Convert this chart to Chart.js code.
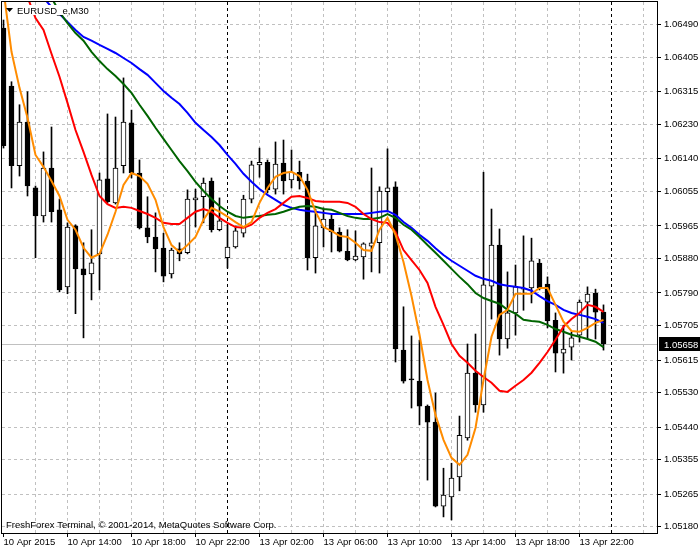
<!DOCTYPE html>
<html>
<head>
<meta charset="utf-8">
<script src="https://cdn.jsdelivr.net/npm/chart.js@4.4.1/dist/chart.umd.min.js"></script>
<style>
  html, body { margin: 0; padding: 0; background: #fff; }
  #wrap { width: 700px; height: 550px; }
</style>
</head>
<body>
<div id="wrap"><canvas id="myChart" width="700" height="550"></canvas></div>
<script>
// EURUSD_e M30, 10 Apr 10:00 .. 13 Apr 23:30, one entry per bar
const opens = [1.06481, 1.06330, 1.06122, 1.06236, 1.06064, 1.05991, 1.06116, 1.06007, 1.05806, 1.05965,
  1.05853, 1.05840, 1.05892, 1.06088, 1.06025, 1.06122, 1.06234, 1.06103, 1.05960, 1.05936,
  1.05907, 1.05840, 1.05905, 1.05895, 1.06033, 1.06041, 1.06082, 1.05955, 1.05882, 1.05910,
  1.05946, 1.06035, 1.06124, 1.06131, 1.06061, 1.06129, 1.06085, 1.06105, 1.06082, 1.05882,
  1.05960, 1.05983, 1.05949, 1.05899, 1.05876, 1.05884, 1.05912, 1.05921, 1.06054, 1.06067,
  1.05641, 1.05566, 1.05560, 1.05495, 1.05453, 1.05234, 1.05258, 1.05310, 1.05412, 1.05581,
  1.05498, 1.05808, 1.05915, 1.05670, 1.05738, 1.05800, 1.05803, 1.05868, 1.05813, 1.05719,
  1.05633, 1.05649, 1.05680, 1.05766, 1.05790, 1.05740];
const highs = [1.06502, 1.06341, 1.06281, 1.06315, 1.06069, 1.06158, 1.06223, 1.06035, 1.05973, 1.05968,
  1.05921, 1.05955, 1.06103, 1.06257, 1.06249, 1.06351, 1.06267, 1.06137, 1.06041, 1.05999,
  1.05946, 1.05907, 1.05921, 1.06059, 1.06061, 1.06090, 1.06090, 1.06038, 1.05968, 1.05965,
  1.06045, 1.06134, 1.06168, 1.06137, 1.06184, 1.06189, 1.06163, 1.06134, 1.06100, 1.06009,
  1.06012, 1.05993, 1.05960, 1.05955, 1.05952, 1.05921, 1.06116, 1.06067, 1.06166, 1.06080,
  1.05754, 1.05678, 1.05667, 1.05498, 1.05529, 1.05333, 1.05346, 1.05469, 1.05657, 1.05683,
  1.06105, 1.06009, 1.05957, 1.05845, 1.05863, 1.05939, 1.05933, 1.05878, 1.05832, 1.05738,
  1.05706, 1.05688, 1.05772, 1.05806, 1.05800, 1.05759];
const lows = [1.06168, 1.06064, 1.06095, 1.06043, 1.05882, 1.05975, 1.05975, 1.05793, 1.05788, 1.05736,
  1.05673, 1.05772, 1.05798, 1.06025, 1.06022, 1.06103, 1.06090, 1.05957, 1.05921, 1.05845,
  1.05819, 1.05829, 1.05874, 1.05892, 1.05962, 1.05973, 1.05949, 1.05952, 1.05855, 1.05907,
  1.05936, 1.06025, 1.06092, 1.06051, 1.06048, 1.06048, 1.06064, 1.06061, 1.05850, 1.05842,
  1.05910, 1.05897, 1.05897, 1.05874, 1.05874, 1.05826, 1.05845, 1.05842, 1.06002, 1.05610,
  1.05555, 1.05490, 1.05446, 1.05302, 1.05232, 1.05206, 1.05198, 1.05274, 1.05406, 1.05479,
  1.05479, 1.05722, 1.05628, 1.05646, 1.05680, 1.05745, 1.05764, 1.05798, 1.05699, 1.05584,
  1.05581, 1.05615, 1.05662, 1.05670, 1.05670, 1.05641];
const closes = [1.06174, 1.06122, 1.06236, 1.06069, 1.05991, 1.06116, 1.06002, 1.05798, 1.05962, 1.05853,
  1.05837, 1.05869, 1.06085, 1.06028, 1.06116, 1.06236, 1.06103, 1.05960, 1.05936, 1.05905,
  1.05834, 1.05902, 1.05892, 1.06035, 1.06038, 1.06077, 1.05955, 1.05978, 1.05910, 1.05952,
  1.06035, 1.06124, 1.06131, 1.06059, 1.06126, 1.06082, 1.06105, 1.06082, 1.05882, 1.05965,
  1.05983, 1.05949, 1.05899, 1.05876, 1.05886, 1.05918, 1.05921, 1.06056, 1.06064, 1.05644,
  1.05560, 1.05563, 1.05495, 1.05453, 1.05234, 1.05263, 1.05307, 1.05419, 1.05581, 1.05498,
  1.05811, 1.05915, 1.05670, 1.05738, 1.05806, 1.05803, 1.05874, 1.05803, 1.05717, 1.05633,
  1.05644, 1.05673, 1.05766, 1.05787, 1.05740, 1.05658];

// moving averages (null = not on screen yet)
const maOrange = [1.06580, 1.06419, 1.06325, 1.06247, 1.06150, 1.06119, 1.06082, 1.06043, 1.05981, 1.05955,
  1.05908, 1.05882, 1.05892, 1.05942, 1.06002, 1.06072, 1.06103, 1.06095, 1.06075, 1.06033,
  1.05962, 1.05915, 1.05897, 1.05915, 1.05936, 1.05981, 1.06012, 1.06002, 1.05989, 1.05975,
  1.05962, 1.05975, 1.06025, 1.06064, 1.06093, 1.06103, 1.06106, 1.06095, 1.06059, 1.06002,
  1.05962, 1.05952, 1.05939, 1.05936, 1.05921, 1.05902, 1.05900, 1.05955, 1.05986, 1.05942,
  1.05871, 1.05782, 1.05681, 1.05563, 1.05472, 1.05407, 1.05360, 1.05342, 1.05368, 1.05438,
  1.05563, 1.05676, 1.05733, 1.05746, 1.05788, 1.05788, 1.05788, 1.05803, 1.05803, 1.05759,
  1.05715, 1.05691, 1.05689, 1.05699, 1.05712, 1.05720];
const maRed = [null, null, null, 1.06562, 1.06507, 1.06476, 1.06414, 1.06354, 1.06286, 1.06215,
  1.06158, 1.06098, 1.06043, 1.06022, 1.06012, 1.06015, 1.06012, 1.06004, 1.05996, 1.05986,
  1.05973, 1.05970, 1.05970, 1.05986, 1.06002, 1.06009, 1.06002, 1.05986, 1.05973, 1.05962,
  1.05960, 1.05968, 1.05986, 1.05999, 1.06009, 1.06025, 1.06041, 1.06043, 1.06038, 1.06030,
  1.06028, 1.06028, 1.06028, 1.06025, 1.06015, 1.05996, 1.05983, 1.05975, 1.05973, 1.05949,
  1.05902, 1.05876, 1.05850, 1.05816, 1.05754, 1.05707, 1.05657, 1.05626, 1.05608, 1.05587,
  1.05571, 1.05556, 1.05535, 1.05532, 1.05548, 1.05563, 1.05582, 1.05608, 1.05636, 1.05668,
  1.05702, 1.05722, 1.05738, 1.05759, 1.05754, 1.05741];
const maGreen = [null, null, null, null, null, null, 1.06560, 1.06523, 1.06494, 1.06468,
  1.06448, 1.06419, 1.06395, 1.06374, 1.06356, 1.06335, 1.06312, 1.06281, 1.06252, 1.06221,
  1.06192, 1.06163, 1.06134, 1.06108, 1.06080, 1.06056, 1.06035, 1.06017, 1.06002, 1.05991,
  1.05986, 1.05989, 1.05991, 1.05994, 1.05996, 1.06002, 1.06009, 1.06015, 1.06017, 1.06015,
  1.06009, 1.06007, 1.05999, 1.05991, 1.05986, 1.05983, 1.05983, 1.05986, 1.05996, 1.05986,
  1.05968, 1.05955, 1.05936, 1.05915, 1.05895, 1.05874, 1.05853, 1.05832, 1.05813, 1.05790,
  1.05777, 1.05769, 1.05762, 1.05746, 1.05736, 1.05720, 1.05717, 1.05715, 1.05707, 1.05696,
  1.05689, 1.05681, 1.05676, 1.05670, 1.05663, 1.05649];
const maBlue = [null, null, null, null, null, 1.06560, 1.06536, 1.06518, 1.06497, 1.06476,
  1.06458, 1.06448, 1.06437, 1.06427, 1.06416, 1.06403, 1.06390, 1.06374, 1.06359, 1.06338,
  1.06317, 1.06299, 1.06283, 1.06260, 1.06234, 1.06215, 1.06197, 1.06176, 1.06150, 1.06127,
  1.06101, 1.06080, 1.06061, 1.06046, 1.06033, 1.06020, 1.06012, 1.06007, 1.06004, 1.06002,
  1.05999, 1.05996, 1.05996, 1.05996, 1.05996, 1.05996, 1.05999, 1.06002, 1.06004, 1.05994,
  1.05975, 1.05960, 1.05942, 1.05926, 1.05907, 1.05889, 1.05874, 1.05861, 1.05848, 1.05835,
  1.05827, 1.05822, 1.05813, 1.05809, 1.05806, 1.05803, 1.05796, 1.05782, 1.05769, 1.05759,
  1.05746, 1.05738, 1.05733, 1.05728, 1.05722, 1.05712];

// time labels every 8 bars (4 hours)
const timeLabels = ['10 Apr 2015', '10 Apr 14:00', '10 Apr 18:00', '10 Apr 22:00', '13 Apr 02:00',
  '13 Apr 06:00', '13 Apr 10:00', '13 Apr 14:00', '13 Apr 18:00', '13 Apr 22:00'];
const priceTicks = [1.05180, 1.05265, 1.05355, 1.05440, 1.05530, 1.05615, 1.05705, 1.05790,
  1.05880, 1.05965, 1.06055, 1.06140, 1.06230, 1.06315, 1.06405, 1.06490];
const daySeparators = [28, 76];
const symbolTitle = 'EURUSD_e,M30';
const copyright = 'FreshForex Terminal, \u00a9 2001-2014, MetaQuotes Software Corp.';

const FONT = 'Liberation Sans, Arial, sans-serif';
Chart.defaults.font.family = FONT;
Chart.defaults.font.size = 9.5;
Chart.defaults.color = '#000';

function xy(arr) {
  let out = [];
  for (let i = 0; i < arr.length; i++) {
    out.push({x: i, y: arr[i]});
  }
  return out;
}

let wicks = [], bodies = [], bodyColors = [];
for (let i = 0; i < opens.length; i++) {
  wicks.push({x: i, y: [lows[i], highs[i]]});
  bodies.push({x: i, y: [opens[i], closes[i]]});
  bodyColors.push(closes[i] >= opens[i] ? '#ffffff' : '#000000');
}

function maLine(data, color) {
  return {
    type: 'line',
    data: xy(data),
    borderColor: color,
    borderWidth: 2,
    pointRadius: 0,
    tension: 0,
    spanGaps: false,
    clip: 0,
    order: 1
  };
}

// frame, title, copyright, last price line and label
const decor = {
  id: 'decor',
  beforeDatasetsDraw(chart) {
    const ctx = chart.ctx, a = chart.chartArea;
    const y = Math.round(chart.scales.y.getPixelForValue(closes[closes.length - 1])) + 0.5;
    ctx.save();
    ctx.strokeStyle = '#c0c0c0';
    ctx.lineWidth = 1;
    ctx.beginPath();
    ctx.moveTo(a.left, y);
    ctx.lineTo(a.right, y);
    ctx.stroke();
    ctx.restore();
  },
  afterDraw(chart) {
    const ctx = chart.ctx, a = chart.chartArea;
    ctx.save();
    ctx.strokeStyle = '#000';
    ctx.lineWidth = 1;
    ctx.strokeRect(Math.round(a.left) - 0.5, Math.round(a.top) - 0.5,
      Math.round(a.right - a.left) + 1, Math.round(a.bottom - a.top) + 1);

    ctx.font = '9.5px ' + FONT;
    ctx.textBaseline = 'alphabetic';
    ctx.textAlign = 'left';
    // the title sits on its own white strip
    ctx.fillStyle = '#fff';
    ctx.fillRect(15, 5, ctx.measureText(symbolTitle).width + 4, 10);
    ctx.fillStyle = '#000';
    ctx.beginPath();
    ctx.moveTo(6, 8);
    ctx.lineTo(13, 8);
    ctx.lineTo(9.5, 12);
    ctx.closePath();
    ctx.fill();
    ctx.fillText(symbolTitle, 17, 14);
    ctx.fillText(copyright, 6, 528);

    const last = closes[closes.length - 1];
    const y = Math.round(chart.scales.y.getPixelForValue(last));
    ctx.fillRect(a.right + 2, y - 7, 700 - a.right - 2, 14);
    ctx.fillStyle = '#fff';
    ctx.textBaseline = 'middle';
    ctx.fillText(last.toFixed(5), a.right + 7, y + 1);
    ctx.restore();
  }
};

const config = {
  data: {
    datasets: [
      maLine(maOrange, '#ff8c00'),
      maLine(maRed, '#ff0000'),
      maLine(maGreen, '#006400'),
      maLine(maBlue, '#0000ff'),
      {
        type: 'bar',
        data: bodies,
        backgroundColor: bodyColors,
        borderColor: '#000',
        borderWidth: 1,
        borderSkipped: false,
        barThickness: 5,
        grouped: false,
        clip: 0,
        order: 2
      },
      {
        type: 'bar',
        data: wicks,
        backgroundColor: '#000',
        borderWidth: 0,
        barThickness: 1,
        grouped: false,
        clip: 0,
        order: 3
      }
    ]
  },
  options: {
    responsive: false,
    devicePixelRatio: 1,
    animation: false,
    events: [],
    layout: { padding: { left: 2, top: 2, right: 0, bottom: 0 } },
    plugins: { legend: { display: false }, tooltip: { enabled: false } },
    scales: {
      x: {
        type: 'linear',
        position: 'bottom',
        offset: false,
        min: -0.1875,
        max: 81.6875,
        afterFit(scale) {
          scale.height = 17;
          scale.paddingLeft = 0;
          scale.paddingRight = 0;
        },
        afterBuildTicks(scale) {
          let t = [];
          for (let v = 0; v <= 80; v += 4) t.push({value: v});
          scale.ticks = t;
        },
        ticks: {
          autoSkip: false,
          maxRotation: 0,
          minRotation: 0,
          align: 'start',
          padding: 0,
          callback(value) {
            if (value % 8 === 0 && value / 8 < timeLabels.length) return timeLabels[value / 8];
            return '';
          }
        },
        grid: {
          offset: false,
          tickLength: 4,
          color(c) {
            const v = c.tick ? c.tick.value : -1;
            if (daySeparators.indexOf(v) >= 0) return '#000';
            if (v === 0) return 'rgba(0,0,0,0)';
            return '#c0c0c0';
          },
          tickColor(c) {
            const v = c.tick ? c.tick.value : -1;
            return (v % 8 === 0 && v / 8 < timeLabels.length) ? '#000' : 'rgba(0,0,0,0)';
          }
        },
        border: { display: false, dash: [3, 3] }
      },
      y: {
        type: 'linear',
        position: 'right',
        min: 1.05164,
        max: 1.06549,
        afterFit(scale) {
          scale.width = 43;
          scale.paddingTop = 0;
          scale.paddingBottom = 0;
        },
        afterBuildTicks(scale) {
          scale.ticks = priceTicks.map(v => ({value: v}));
        },
        ticks: {
          padding: 3,
          callback(value) { return value.toFixed(5); }
        },
        grid: {
          tickLength: 4,
          color: '#c0c0c0',
          tickColor: '#000'
        },
        border: { display: false, dash: [3, 3] }
      }
    }
  },
  plugins: [decor]
};

const myChart = new Chart(document.getElementById('myChart'), config);
</script>
</body>
</html>
